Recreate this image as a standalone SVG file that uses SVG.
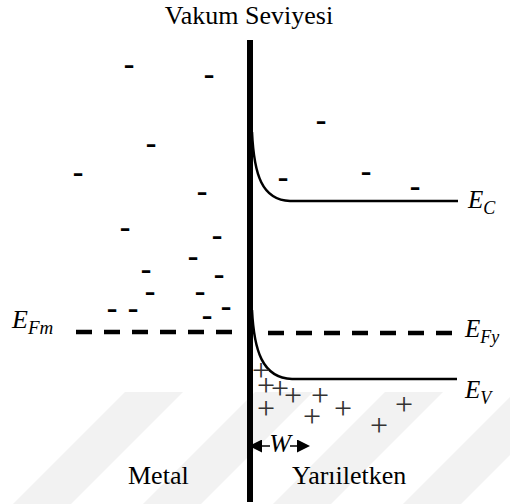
<svg xmlns="http://www.w3.org/2000/svg" width="510" height="504" viewBox="0 0 510 504">
<style>
.t{font-family:"Liberation Serif","Times New Roman",serif;fill:#000}
.it{font-style:italic}
.m{font-family:"Liberation Serif","Times New Roman",serif;font-weight:bold;font-size:32px;text-anchor:middle;fill:#000}
.p{font-family:"Liberation Serif","Times New Roman",serif;font-size:32px;text-anchor:middle;fill:#333}
.band{fill:none;stroke:#000;stroke-width:2.5}
.dash{fill:none;stroke:#000;stroke-width:4.5;stroke-dasharray:16 12}
.wm{fill:#f2f2f2}
</style>
<defs>
<marker id="ah" viewBox="0 0 10 10" refX="0" refY="5" markerWidth="15" markerHeight="13" markerUnits="userSpaceOnUse" orient="auto-start-reverse"><path d="M0,0 L10,5 L0,10 z" fill="#000"/></marker>
</defs>
<rect width="510" height="504" fill="#fff"/>
<g id="watermark">
<polygon class="wm" points="125,392 183,392 71,504 13,504"/>
<polygon class="wm" points="255,392 313,392 201,504 143,504"/>
<polygon class="wm" points="385,392 443,392 331,504 273,504"/>
<polygon class="wm" points="515,392 573,392 461,504 403,504"/>
</g>
<g id="title"><text class="t" x="249" y="24" font-size="26" text-anchor="middle">Vakum Seviyesi</text></g>
<g id="connectors">
<path id="ec" class="band" d="M252,132 C254,175 262,200 290,201 L458,201"/>
<path id="ev" class="band" d="M252,310 C254,350 262,378 292,379 L457,379"/>
<line id="efm" class="dash" x1="76" y1="332" x2="234" y2="332"/>
<line id="efy" class="dash" x1="268" y1="333" x2="454" y2="333"/>
<line x1="262" y1="446" x2="270" y2="446" stroke="#000" stroke-width="1.5" marker-start="url(#ah)"/>
<line x1="290" y1="446" x2="297" y2="446" stroke="#000" stroke-width="1.5" marker-end="url(#ah)"/>
</g>
<g id="interface"><rect x="247" y="40" width="6" height="462" fill="#000"/></g>
<g id="electrons">
<text class="m" x="129" y="74">-</text>
<text class="m" x="209" y="84">-</text>
<text class="m" x="321" y="130">-</text>
<text class="m" x="151" y="153">-</text>
<text class="m" x="78" y="182">-</text>
<text class="m" x="283" y="187">-</text>
<text class="m" x="366" y="181">-</text>
<text class="m" x="415" y="196">-</text>
<text class="m" x="202" y="201">-</text>
<text class="m" x="125" y="237">-</text>
<text class="m" x="217" y="245">-</text>
<text class="m" x="193" y="266">-</text>
<text class="m" x="146" y="279">-</text>
<text class="m" x="219" y="284">-</text>
<text class="m" x="150" y="301">-</text>
<text class="m" x="200" y="301">-</text>
<text class="m" x="112" y="318">-</text>
<text class="m" x="133" y="318">-</text>
<text class="m" x="226" y="316">-</text>
<text class="m" x="207" y="325">-</text>
</g>
<g id="holes">
<text class="p" x="261" y="381">+</text>
<text class="p" x="266" y="396">+</text>
<text class="p" x="280" y="399">+</text>
<text class="p" x="293" y="406">+</text>
<text class="p" x="320" y="406">+</text>
<text class="p" x="266" y="419">+</text>
<text class="p" x="343" y="419">+</text>
<text class="p" x="312" y="427">+</text>
<text class="p" x="404" y="415">+</text>
<text class="p" x="379" y="436">+</text>
</g>
<g id="label-ec"><text class="t it" x="468" y="208" font-size="25">E<tspan font-size="18" dy="6">C</tspan></text></g>
<g id="label-efm"><text class="t it" x="12" y="328" font-size="26">E<tspan font-size="19" dy="6">Fm</tspan></text></g>
<g id="label-efy"><text class="t it" x="465" y="337" font-size="25">E<tspan font-size="18" dy="6">Fy</tspan></text></g>
<g id="label-ev"><text class="t it" x="465" y="398" font-size="25">E<tspan font-size="18" dy="6">V</tspan></text></g>
<g id="label-w"><text class="t it" x="280" y="452" font-size="26" text-anchor="middle">W</text></g>
<g id="label-metal"><text class="t" x="128" y="484" font-size="26">Metal</text></g>
<g id="label-yari"><text class="t" x="292" y="484" font-size="26">Yarıiletken</text></g>
</svg>
